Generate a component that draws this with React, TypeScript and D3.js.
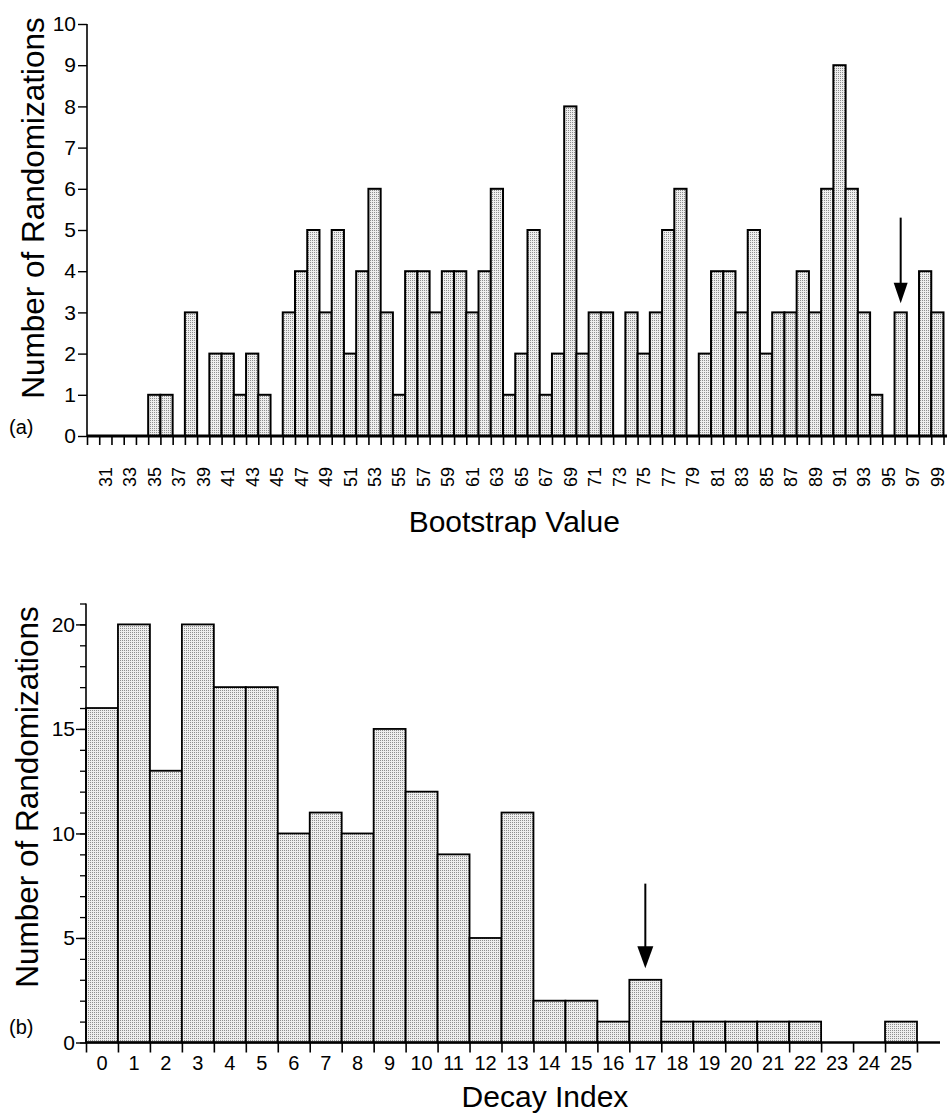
import React, { useEffect, useRef } from 'react';
import * as d3 from 'd3';

// (a) bootstrap histogram: one bin per integer value
const bootstrapBins = [
  30, 31, 32, 33, 34, 35, 36, 37, 38, 39,
  40, 41, 42, 43, 44, 45, 46, 47, 48, 49,
  50, 51, 52, 53, 54, 55, 56, 57, 58, 59,
  60, 61, 62, 63, 64, 65, 66, 67, 68, 69,
  70, 71, 72, 73, 74, 75, 76, 77, 78, 79,
  80, 81, 82, 83, 84, 85, 86, 87, 88, 89,
  90, 91, 92, 93, 94, 95, 96, 97, 98, 99,
];
const bootstrapCounts = [
  0, 0, 0, 0, 0, 1, 1, 0, 3, 0,
  2, 2, 1, 2, 1, 0, 3, 4, 5, 3,
  5, 2, 4, 6, 3, 1, 4, 4, 3, 4,
  4, 3, 4, 6, 1, 2, 5, 1, 2, 8,
  2, 3, 3, 0, 3, 2, 3, 5, 6, 0,
  2, 4, 4, 3, 5, 2, 3, 3, 4, 3,
  6, 9, 6, 3, 1, 0, 3, 0, 4, 3,
];
const bootstrapYTicks = [0, 1, 2, 3, 4, 5, 6, 7, 8, 9, 10];
const bootstrapArrowAt = 96;

// (b) decay index histogram
const decayBins = [0, 1, 2, 3, 4, 5, 6, 7, 8, 9, 10, 11, 12, 13, 14, 15, 16, 17, 18, 19, 20, 21, 22, 23, 24, 25];
const decayCounts = [16, 20, 13, 20, 17, 17, 10, 11, 10, 15, 12, 9, 5, 11, 2, 2, 1, 3, 1, 1, 1, 1, 1, 0, 0, 1];
const decayYLabels = [0, 5, 10, 15, 20];
const decayArrowAt = 17;

const FONT = '"Liberation Sans", Arial, Helvetica, sans-serif';

export default function App() {
  const ref = useRef<SVGSVGElement>(null);

  useEffect(() => {
    const svg = d3.select(ref.current);
    svg.selectAll('*').remove();

    // stipple fill
    const pat = svg.append('defs').append('pattern')
      .attr('id', 'stipple').attr('patternUnits', 'userSpaceOnUse')
      .attr('width', 2).attr('height', 2);
    pat.append('rect').attr('width', 2).attr('height', 2).attr('fill', '#eeeeee');
    pat.append('rect').attr('width', 1).attr('height', 1).attr('fill', '#8e8e8e');

    //---------------- panel (a) ----------------
    const gA = svg.append('g');
    const xA = d3.scaleLinear().domain([30, 100]).range([87, 943.5]);
    const yA = d3.scaleLinear().domain([0, 10]).range([436, 24]);

    gA.selectAll('rect.bar')
      .data(bootstrapBins.map((b, i) => ({ b, c: bootstrapCounts[i] })).filter(d => d.c > 0))
      .join('rect')
      .attr('class', 'bar')
      .attr('x', d => xA(d.b))
      .attr('y', d => yA(d.c))
      .attr('width', d => xA(d.b + 1) - xA(d.b))
      .attr('height', d => yA(0) - yA(d.c))
      .attr('fill', 'url(#stipple)')
      .attr('stroke', '#000')
      .attr('stroke-width', 2);

    // y axis
    const yAxisA = gA.append('g').attr('transform', `translate(${xA(30)},0)`)
      .call(d3.axisLeft(yA).tickValues(bootstrapYTicks).tickSize(9).tickPadding(2).tickFormat(d3.format('d')));
    yAxisA.select('.domain').attr('d', `M0,${yA(0)}V${yA(10)}`).attr('stroke-width', 1.6);
    yAxisA.selectAll('.tick line').attr('stroke-width', 1.4);
    yAxisA.selectAll('.tick text').attr('font-size', 21).attr('font-family', FONT).attr('fill', '#000');

    // x axis: ticks at bin edges
    const xAxisA = gA.append('g').attr('transform', `translate(0,${yA(0)})`)
      .call(d3.axisBottom(xA).tickValues([...bootstrapBins, 100]).tickSize(9).tickFormat(() => ''));
    xAxisA.select('.domain').remove();
    xAxisA.selectAll('.tick line').attr('stroke-width', 1.6);
    gA.append('line').attr('x1', xA(30)).attr('x2', 947).attr('y1', yA(0)).attr('y2', yA(0))
      .attr('stroke', '#000').attr('stroke-width', 3);

    gA.selectAll('text.xl')
      .data(bootstrapBins.filter(b => b % 2 === 1))
      .join('text')
      .attr('class', 'xl')
      .attr('transform', d => `translate(${xA(d + 0.5)},487) rotate(-90)`)
      .attr('dy', '0.36em')
      .attr('font-size', 18).attr('font-family', FONT)
      .text(d => d);

    gA.append('text').attr('x', (xA(30) + xA(100)) / 2 - 1).attr('y', 532)
      .attr('text-anchor', 'middle').attr('font-size', 30).attr('font-family', FONT)
      .text('Bootstrap Value');
    gA.append('text').attr('transform', `translate(44,208) rotate(-90)`)
      .attr('text-anchor', 'middle').attr('font-size', 31.5).attr('font-family', FONT)
      .text('Number of Randomizations');
    gA.append('text').attr('x', 9).attr('y', 434).attr('font-size', 20).attr('font-family', FONT).text('(a)');

    // arrow
    const ax = xA(bootstrapArrowAt + 0.5);
    gA.append('line').attr('x1', ax).attr('x2', ax).attr('y1', yA(5.3)).attr('y2', yA(3.7))
      .attr('stroke', '#000').attr('stroke-width', 2);
    gA.append('path').attr('d', `M${ax - 7},${yA(3.72)}L${ax + 7},${yA(3.72)}L${ax},${yA(3.22)}Z`).attr('fill', '#000');

    //---------------- panel (b) ----------------
    const gB = svg.append('g');
    const xB = d3.scaleLinear().domain([0, 26]).range([86, 917]);
    const yB = d3.scaleLinear().domain([0, 21]).range([1042.5, 603.5]);

    gB.selectAll('rect.bar')
      .data(decayBins.map((b, i) => ({ b, c: decayCounts[i] })).filter(d => d.c > 0))
      .join('rect')
      .attr('class', 'bar')
      .attr('x', d => xB(d.b))
      .attr('y', d => yB(d.c))
      .attr('width', d => xB(d.b + 1) - xB(d.b))
      .attr('height', d => yB(0) - yB(d.c))
      .attr('fill', 'url(#stipple)')
      .attr('stroke', '#000')
      .attr('stroke-width', 1.8);

    const yAxisB = gB.append('g').attr('transform', `translate(${xB(0)},0)`)
      .call(d3.axisLeft(yB).ticks(21).tickSize(6).tickFormat(() => ''));
    yAxisB.select('.domain').attr('d', `M0,${yB(0)}V${yB(21)}`).attr('stroke-width', 1.6);
    yAxisB.selectAll('.tick line').attr('stroke-width', 1.3);
    const yAxisB2 = gB.append('g').attr('transform', `translate(${xB(0)},0)`)
      .call(d3.axisLeft(yB).tickValues(decayYLabels).tickSize(10).tickPadding(1).tickFormat(d3.format('d')));
    yAxisB2.select('.domain').remove();
    yAxisB2.selectAll('.tick line').attr('stroke-width', 1.4);
    yAxisB2.selectAll('.tick text').attr('font-size', 21).attr('font-family', FONT).attr('fill', '#000');

    const xAxisB = gB.append('g').attr('transform', `translate(0,${yB(0)})`)
      .call(d3.axisBottom(xB).tickValues([...decayBins, 26]).tickSize(10).tickFormat(() => ''));
    xAxisB.select('.domain').remove();
    xAxisB.selectAll('.tick line').attr('stroke-width', 1.6);
    gB.append('line').attr('x1', xB(0)).attr('x2', 940).attr('y1', yB(0)).attr('y2', yB(0))
      .attr('stroke', '#000').attr('stroke-width', 2.5);

    gB.selectAll('text.xl')
      .data(decayBins)
      .join('text')
      .attr('class', 'xl')
      .attr('x', d => xB(d + 0.5)).attr('y', 1070)
      .attr('text-anchor', 'middle').attr('font-size', 20).attr('font-family', FONT)
      .text(d => d);

    gB.append('text').attr('x', 545).attr('y', 1107)
      .attr('text-anchor', 'middle').attr('font-size', 30).attr('font-family', FONT)
      .text('Decay Index');
    gB.append('text').attr('transform', `translate(38,797) rotate(-90)`)
      .attr('text-anchor', 'middle').attr('font-size', 31.5).attr('font-family', FONT)
      .text('Number of Randomizations');
    gB.append('text').attr('x', 9).attr('y', 1034).attr('font-size', 20).attr('font-family', FONT).text('(b)');

    const bx = xB(decayArrowAt + 0.5);
    gB.append('line').attr('x1', bx).attr('x2', bx).attr('y1', yB(7.6)).attr('y2', yB(4.5))
      .attr('stroke', '#000').attr('stroke-width', 2);
    gB.append('path').attr('d', `M${bx - 8},${yB(4.6)}L${bx + 8},${yB(4.6)}L${bx},${yB(3.55)}Z`).attr('fill', '#000');
  }, []);

  return (
    <svg ref={ref} width={947} height={1117}
      style={{ position: 'absolute', left: 0, top: 0, background: '#fff' }} />
  );
}
